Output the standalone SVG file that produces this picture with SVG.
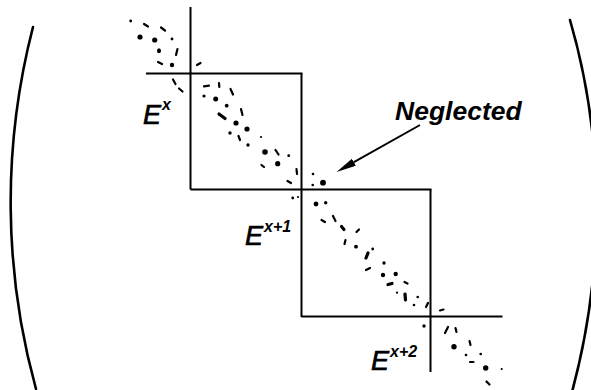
<svg xmlns="http://www.w3.org/2000/svg" width="591" height="390" viewBox="0 0 591 390">
<style>
.ln{stroke:#000;stroke-width:2;fill:none}
.par{stroke:#000;stroke-width:2.6;fill:none;stroke-linecap:round}
.dt{fill:#000}
.ds{stroke:#000;stroke-width:2.2;stroke-linecap:round;fill:none}
.dk{stroke:#000;stroke-width:3.2;stroke-linecap:round;fill:none}
.lbl{font-family:"Liberation Sans",Arial,Helvetica,sans-serif;font-style:italic;fill:#000}
.ebig{stroke:#000;stroke-width:0.7}
.sup{font-family:"Liberation Sans",Arial,Helvetica,sans-serif;font-style:italic;font-weight:bold;font-size:16px;fill:#000}
</style>
<defs>
<marker id="ah" markerUnits="userSpaceOnUse" markerWidth="21" markerHeight="9" refX="0" refY="4" orient="auto">
<path d="M0,0 L20,4 L0,8 z" fill="#000"/>
</marker>
</defs>
<g id="parens">
<path class="par" d="M33,27 A700,700 0 0 0 36,389"/>
<path class="par" d="M570,20 C605,140 605,270 572,392"/>
</g>
<g id="blocks">
<path class="ln" d="M190.5,7 V189.5"/>
<path class="ln" d="M146,73.5 H302.5"/>
<path class="ln" d="M301.5,73.5 V317"/>
<path class="ln" d="M190.5,189.5 H431.5"/>
<path class="ln" d="M430.5,189.5 V372"/>
<path class="ln" d="M301.5,316.5 H502.5"/>
</g>
<g id="scatter">
<circle class="dt" cx="130.7" cy="21" r="1.4"/>
<line class="ds" x1="144" y1="24" x2="148" y2="26.5"/>
<line class="ds" x1="161" y1="27.5" x2="165" y2="30.5"/>
<circle class="dt" cx="140" cy="37" r="2.6"/>
<circle class="dt" cx="154.7" cy="40" r="2.6"/>
<circle class="dt" cx="172" cy="39" r="1.4"/>
<ellipse class="dt" cx="159" cy="50.7" rx="2" ry="2.5"/>
<line class="ds" x1="177.5" y1="49" x2="176" y2="55"/>
<line class="ds" x1="158" y1="62" x2="162" y2="64"/>
<circle class="dt" cx="172" cy="65" r="2.2"/>
<line class="ds" x1="197" y1="65" x2="200.5" y2="63"/>
<line class="ds" x1="173" y1="79.5" x2="175.5" y2="84"/>
<line class="ds" x1="179" y1="88.5" x2="182.5" y2="91.5"/>
<line class="ds" x1="204" y1="86.3" x2="209" y2="85.7"/>
<line class="ds" x1="219" y1="83" x2="219.3" y2="87"/>
<line class="ds" x1="230.5" y1="89" x2="233" y2="94.5"/>
<circle class="dt" cx="204" cy="96" r="1.6"/>
<circle class="dt" cx="215.7" cy="99" r="2.5"/>
<circle class="dt" cx="226.7" cy="105.7" r="1.9"/>
<line class="dk" x1="219" y1="114" x2="225" y2="118.5"/>
<line class="ds" x1="241" y1="109" x2="242.5" y2="115"/>
<circle class="dt" cx="236" cy="123" r="2.6"/>
<circle class="dt" cx="247" cy="129" r="2.6"/>
<circle class="dt" cx="230" cy="133" r="1.7"/>
<line class="ds" x1="238.5" y1="136" x2="240" y2="140"/>
<circle class="dt" cx="248" cy="145" r="1.7"/>
<circle class="dt" cx="261" cy="137" r="1.1"/>
<circle class="dt" cx="265" cy="152" r="2.8"/>
<line class="ds" x1="275.5" y1="150" x2="278.5" y2="154.5"/>
<circle class="dt" cx="288.7" cy="155.7" r="1.4"/>
<line class="ds" x1="261.5" y1="165" x2="264" y2="167"/>
<circle class="dt" cx="277.7" cy="163.7" r="2.6"/>
<line class="ds" x1="296.5" y1="169" x2="297" y2="174"/>
<line class="ds" x1="287.5" y1="181" x2="291" y2="183"/>
<circle class="dt" cx="313" cy="174" r="1.3"/>
<circle class="dt" cx="312.7" cy="185" r="1.3"/>
<circle class="dt" cx="323" cy="182.7" r="2.9"/>
<circle class="dt" cx="292.7" cy="198" r="1.4"/>
<circle class="dt" cx="298" cy="197" r="1.1"/>
<circle class="dt" cx="316" cy="204" r="2.4"/>
<circle class="dt" cx="325.7" cy="202.7" r="1.7"/>
<line class="ds" x1="321.5" y1="220" x2="325" y2="222"/>
<line class="ds" x1="333" y1="216" x2="335.5" y2="221"/>
<line class="dk" x1="341.5" y1="226.5" x2="344" y2="229.5"/>
<line class="ds" x1="356.5" y1="232" x2="359" y2="229.5"/>
<line class="ds" x1="345.5" y1="240" x2="344.5" y2="244"/>
<circle class="dt" cx="356" cy="246.7" r="1.9"/>
<line class="dk" x1="366" y1="258" x2="368" y2="253"/>
<circle class="dt" cx="372.7" cy="249" r="1.4"/>
<circle class="dt" cx="384" cy="263" r="1.7"/>
<line class="ds" x1="366" y1="270" x2="370" y2="268"/>
<circle class="dt" cx="383" cy="275" r="2.2"/>
<circle class="dt" cx="395.7" cy="274" r="2.2"/>
<line class="dk" x1="388" y1="284.5" x2="392" y2="283.5"/>
<line class="ds" x1="404.5" y1="282" x2="407.5" y2="283.5"/>
<circle class="dt" cx="397" cy="292.7" r="1.1"/>
<line class="dk" x1="405" y1="294" x2="405.5" y2="300"/>
<circle class="dt" cx="417.7" cy="297" r="1.3"/>
<circle class="dt" cx="414" cy="305" r="1.3"/>
<line class="ds" x1="426" y1="307" x2="428" y2="303"/>
<line class="ds" x1="440" y1="310.5" x2="443.5" y2="309.5"/>
<circle class="dt" cx="424" cy="326" r="1.7"/>
<line class="ds" x1="445" y1="333" x2="448" y2="327"/>
<line class="ds" x1="455.5" y1="328" x2="456.5" y2="332"/>
<circle class="dt" cx="454" cy="346.7" r="2.7"/>
<line class="ds" x1="469.5" y1="341" x2="470.5" y2="345"/>
<circle class="dt" cx="466" cy="355" r="1.3"/>
<circle class="dt" cx="480.7" cy="354" r="1.3"/>
<line class="ds" x1="470" y1="362" x2="473.5" y2="362"/>
<circle class="dt" cx="485.7" cy="368" r="2.7"/>
<circle class="dt" cx="501.7" cy="369" r="1.1"/>
<line class="ds" x1="486.5" y1="381.5" x2="489.5" y2="384.5"/>
</g>
<g id="label-ex">
<text class="lbl ebig" x="143" y="124" font-size="27">E</text>
<text class="sup" x="162" y="110" font-size="17">x</text>
</g>
<g id="label-ex1">
<text class="lbl ebig" x="245" y="245" font-size="27">E</text>
<text class="sup" x="264" y="232">x+1</text>
</g>
<g id="label-ex2">
<text class="lbl ebig" x="371" y="370" font-size="27">E</text>
<text class="sup" x="390" y="357">x+2</text>
</g>
<g id="label-neglected">
<text class="lbl" x="395" y="120" font-size="26.5" font-weight="bold">Neglected</text>
</g>
<g id="connectors">
<line class="ln" x1="420" y1="125" x2="353.9" y2="162.2" marker-end="url(#ah)"/>
</g>
</svg>
